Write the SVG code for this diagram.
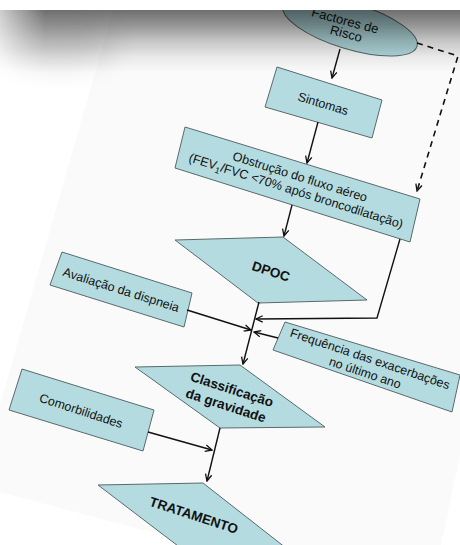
<svg xmlns="http://www.w3.org/2000/svg" width="460" height="545" viewBox="0 0 460 545">
<defs>
<style>
.box{fill:#b4dce0;stroke:#5a6a6c;stroke-width:1}
.t{font-family:"Liberation Sans",Arial,sans-serif;font-size:12.5px;fill:#111;text-anchor:middle}
.b{font-family:"Liberation Sans",Arial,sans-serif;font-size:13.5px;font-weight:bold;fill:#111;text-anchor:middle}
.c{fill:none;stroke:#111;stroke-width:1.4}
.d{fill:none;stroke:#111;stroke-width:1.6;stroke-dasharray:6 5}
</style>
<marker id="ah" viewBox="0 0 8 8" refX="7.2" refY="4" markerWidth="8" markerHeight="8" markerUnits="userSpaceOnUse" orient="auto">
<path d="M0.5,0.8 L7.2,4 L0.5,7.2" fill="none" stroke="#111" stroke-width="1.3"/>
</marker>
<linearGradient id="vg" x1="0" y1="10" x2="0" y2="72" gradientUnits="userSpaceOnUse">
<stop offset="0" stop-color="#000" stop-opacity="0.56"/>
<stop offset="0.25" stop-color="#000" stop-opacity="0.40"/>
<stop offset="0.5" stop-color="#000" stop-opacity="0.21"/>
<stop offset="0.75" stop-color="#000" stop-opacity="0.07"/>
<stop offset="1" stop-color="#000" stop-opacity="0"/>
</linearGradient>
<linearGradient id="hg" x1="0" y1="0" x2="45" y2="0" gradientUnits="userSpaceOnUse">
<stop offset="0" stop-color="#fff" stop-opacity="0.35"/>
<stop offset="1" stop-color="#fff" stop-opacity="1"/>
</linearGradient>
<mask id="hm" maskUnits="userSpaceOnUse" x="0" y="0" width="460" height="545">
<rect x="0" y="0" width="460" height="545" fill="url(#hg)"/>
</mask>
<filter id="blur2" x="-50%" y="-50%" width="200%" height="200%"><feGaussianBlur stdDeviation="14"/></filter>
</defs>
<rect x="0" y="0" width="460" height="545" fill="#ffffff"/>
<polygon points="113,10 460,10 460,455 441,545 200,545 0,492 0,405" fill="#fafafa"/>

<g id="factores">
<ellipse cx="350" cy="26" rx="70" ry="23" transform="rotate(17 350 26)" class="box"/>
<text class="t" style="font-size:13px" transform="translate(345,21) rotate(15)" y="4">Factores de</text>
<text class="t" style="font-size:13px" transform="translate(346,34) rotate(15)" y="4">Risco</text>
</g>

<g id="sintomas">
<polygon class="box" points="277,67 382,100 372,138 265,107"/>
<text class="t" transform="translate(323,104) rotate(17)" y="4">Sintomas</text>
</g>

<g id="obstrucao">
<polygon class="box" points="185,127 420,199 410,242 175,168"/>
<text class="t" transform="translate(300,177) rotate(17.5)" y="4">Obstrução do fluxo aéreo</text>
<text class="t" transform="translate(296,191) rotate(17.5)" y="4">(FEV<tspan font-size="8.5" dy="3">1</tspan><tspan dy="-3">/FVC &lt;70% após broncodilatação)</tspan></text>
</g>

<g id="dpoc">
<polygon class="box" points="175,240 283,237 367,300 258,303"/>
<text class="b" transform="translate(271,271) rotate(18)" y="5">DPOC</text>
</g>

<g id="avaliacao">
<polygon class="box" points="62,252 192,293 184,327 50,285"/>
<text class="t" transform="translate(121,290) rotate(17.5)" y="4">Avaliação da dispneia</text>
</g>

<g id="frequencia">
<polygon class="box" points="285,322 460,375 452,412 273,350"/>
<text class="t" transform="translate(370,359) rotate(18.5)" y="4">Frequência das exacerbações</text>
<text class="t" transform="translate(365,373) rotate(18.5)" y="4">no último ano</text>
</g>

<g id="classificacao">
<polygon class="box" points="135,367 240,365 325,427 220,428"/>
<text class="b" transform="translate(232,389) rotate(18)" y="5">Classificação</text>
<text class="b" transform="translate(226,405) rotate(18)" y="5">da gravidade</text>
</g>

<g id="comorbilidades">
<polygon class="box" points="22,369 154,410 143,451 9,410"/>
<text class="t" transform="translate(81,411) rotate(18)" y="4">Comorbilidades</text>
</g>

<g id="tratamento">
<polygon class="box" points="98,485 203,483 286,548 182,549"/>
<text class="b" transform="translate(194,515) rotate(18)" y="5">TRATAMENTO</text>
</g>

<g id="connectors">
<line class="c" x1="340" y1="49" x2="332" y2="78" marker-end="url(#ah)"/>
<line class="c" x1="318" y1="122" x2="307" y2="163" marker-end="url(#ah)"/>
<line class="c" x1="292" y1="205" x2="284" y2="236" marker-end="url(#ah)"/>
<polyline class="d" points="417,43 458,56 417,191" marker-end="url(#ah)"/>
<polyline class="c" points="400,239 377,318 256,319" marker-end="url(#ah)"/>
<line class="c" x1="259" y1="302" x2="243" y2="364" marker-end="url(#ah)"/>
<line class="c" x1="187" y1="310" x2="251" y2="330" marker-end="url(#ah)"/>
<line class="c" x1="278" y1="338" x2="254" y2="332" marker-end="url(#ah)"/>
<line class="c" x1="220" y1="428" x2="207" y2="481" marker-end="url(#ah)"/>
<line class="c" x1="148" y1="432" x2="212" y2="450" marker-end="url(#ah)"/>
</g>

<g id="shadow">
<rect x="0" y="10" width="460" height="62" fill="url(#vg)" mask="url(#hm)"/>
<ellipse cx="60" cy="45" rx="55" ry="22" fill="#000" opacity="0.12" filter="url(#blur2)"/>
</g>
<rect x="0" y="0" width="460" height="10" fill="#ffffff"/>
</svg>
